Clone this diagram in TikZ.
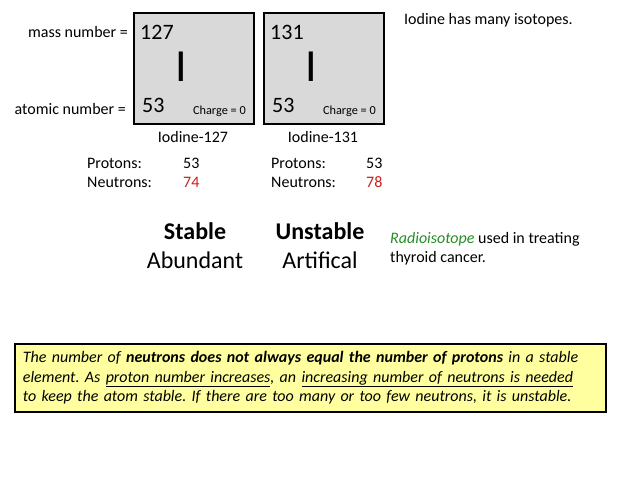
\documentclass[tikz,border=0pt]{standalone}
\usepackage{fontspec}
\setmainfont{Carlito}
\usetikzlibrary{positioning}
\definecolor{boxgray}{RGB}{217,217,217}
\definecolor{notefill}{RGB}{255,255,160}
\definecolor{numred}{RGB}{200,30,30}
\definecolor{radiogreen}{RGB}{40,140,40}
\newcommand{\fs}[1]{\fontsize{#1}{#1}\selectfont}

\begin{document}
\begin{tikzpicture}[x=1pt, y=-1pt, every node/.style={inner sep=0pt}]
\tikzset{
  element/.style={draw, line width=1.6pt, fill=boxgray, minimum width=120pt,
    minimum height=111pt, anchor=north west},
  bignum/.style={font=\fs{22}, anchor=base west},
  symbol/.style={font=\fs{46}, anchor=base},
  charge/.style={font=\fs{12.3}, anchor=base east},
  label/.style={font=\fs{16}},
  status/.style={font=\fs{24}, anchor=base}
}
\useasboundingbox (0,0) rectangle (638,479);

% the two element boxes
\node[element] (box127) at (133,12) {};
\node[element] (box131) at (263,12) {};

\node[bignum] (mass127) at (140,39) {127};
\node[symbol] (sym127) at (181,81) {I};
\node[bignum] (atom127) at (142,112) {53};
\node[charge] (charge127) at (246,114) {Charge = 0};

\node[bignum] (mass131) at (270,39) {131};
\node[symbol] (sym131) at (311,81) {I};
\node[bignum] (atom131) at (272,112) {53};
\node[charge] (charge131) at (376,114) {Charge = 0};

\node[label, anchor=base east] (masslabel) at (128,37) {mass number =};
\node[label, anchor=base east] (atomlabel) at (126,114) {atomic number =};

\node[label, anchor=base] (name127) at (193,142) {Iodine-127};
\node[label, anchor=base] (name131) at (323,142) {Iodine-131};

\node[label, anchor=base west] (isotopes) at (404,24) {Iodine has many isotopes.};

% particle counts
\node[label, anchor=base west] (prot127) at (87,168) {Protons:};
\node[label, anchor=base west] (neut127) at (87,187) {Neutrons:};
\node[label, anchor=base west] (p127) at (183,168) {53};
\node[label, anchor=base west, text=numred] (n127) at (183,187) {74};

\node[label, anchor=base west] (prot131) at (271,168) {Protons:};
\node[label, anchor=base west] (neut131) at (271,187) {Neutrons:};
\node[label, anchor=base west] (p131) at (366,168) {53};
\node[label, anchor=base west, text=numred] (n131) at (366,187) {78};

\node[status] (stable) at (195,239) {\bfseries Stable};
\node[status] (abundant) at (195,268) {Abundant};
\node[status] (unstable) at (320,239) {\bfseries Unstable};
\node[status] (artifical) at (320,268) {Artifical};

\node[label, anchor=base west] (radio1) at (390,243) {\textcolor{radiogreen}{\itshape Radioisotope} used in treating};
\node[label, anchor=base west] (radio2) at (390,262) {thyroid cancer.};

% note box
\node[draw, line width=1.8pt, fill=notefill, anchor=north west, minimum width=591pt,
  minimum height=68pt, text width=575pt, inner xsep=8pt, align=left,
  font=\fontsize{16}{19.5}\selectfont\itshape\frenchspacing] (note) at (14,343)
  {The number of \textbf{neutrons does not always equal the number of protons} in a stable\\
   element. As \underline{proton number increases}, an \underline{increasing number of neutrons is needed}\\
   to keep the atom stable. If there are too many or too few neutrons, it is unstable.};
\end{tikzpicture}
\end{document}
